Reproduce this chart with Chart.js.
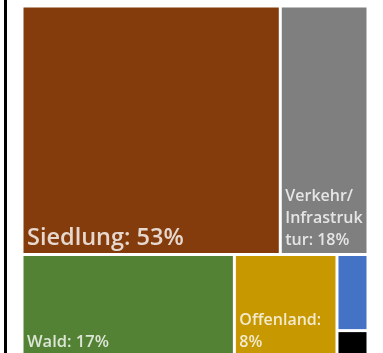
<!DOCTYPE html>
<html>
<head>
<meta charset="utf-8">
<script src="https://cdn.jsdelivr.net/npm/chart.js@4/dist/chart.umd.min.js"></script>
<style>
  html, body { margin: 0; padding: 0; background: #fff; overflow: hidden; }
  #wrap { position: relative; width: 383px; height: 358px; }
  #edge { position: absolute; left: 4px; top: 0; width: 3px; height: 353px; background: #000; }
</style>
</head>
<body>
<div id="wrap">
  <div id="edge"></div>
  <canvas id="treemap" width="383" height="358"></canvas>
</div>
<script>
// Flächenanteile (aus dem Bild geschätzt)
var categories = ['Siedlung', 'Verkehr/Infrastruktur', 'Wald', 'Offenland', 'Gewässer', 'Sonstiges'];
var areaValues = [53, 18, 17.8, 8.6, 1.95, 0.65];
var percentLabels = [53, 18, 17, 8, 2, 1];
var colors = ['#843c0c', '#7f7f7f', '#548235', '#c79800', '#4472c4', '#000000'];
var fontSizes = [23.5, 16, 16.5, 16, 12, 12];

// Anordnung : Zeilen untereinander, eine verschachtelte Liste ist eine Spalte
var layout = [[0, 1], [2, 3, [4, 5]]];

function sum(idx) {
  return idx.reduce(function(s, i) { return s + (Array.isArray(i) ? sum(i) : areaValues[i]); }, 0);
}

// Rechtecke in Datenkoordinaten (0..100 auf beiden Achsen)
function computeRects() {
  var total = sum(layout);
  var rects = [];
  var y = 0;
  layout.forEach(function(row) {
    var rowSum = sum(row);
    var h = rowSum / total * 100;
    var x = 0;
    row.forEach(function(item) {
      if (Array.isArray(item)) {
        var colSum = sum(item);
        var w = colSum / rowSum * 100;
        var yy = y;
        item.forEach(function(i) {
          var hh = areaValues[i] / colSum * h;
          rects.push({ i: i, x0: x, x1: x + w, y0: yy, y1: yy + hh });
          yy += hh;
        });
        x += w;
      } else {
        var w2 = areaValues[item] / rowSum * 100;
        rects.push({ i: item, x0: x, x1: x + w2, y0: y, y1: y + h });
        x += w2;
      }
    });
    y += h;
  });
  return rects;
}

function wrapText(ctx, text, maxW) {
  var tokens = [];
  var cur = '';
  for (var k = 0; k < text.length; k++) {
    cur += text[k];
    if (text[k] === ' ' || text[k] === '/') { tokens.push(cur); cur = ''; }
  }
  if (cur) tokens.push(cur);
  var lines = [];
  var line = '';
  tokens.forEach(function(tok) {
    var test = line + tok;
    if (ctx.measureText(test.trimEnd()).width <= maxW) { line = test; return; }
    if (line) lines.push(line.trimEnd());
    line = '';
    while (ctx.measureText(tok.trimEnd()).width > maxW) {
      var n = tok.length - 1;
      while (n > 1 && ctx.measureText(tok.slice(0, n)).width > maxW) n--;
      lines.push(tok.slice(0, n));
      tok = tok.slice(n);
    }
    line = tok;
  });
  if (line) lines.push(line.trimEnd());
  return lines;
}

var treemapPlugin = {
  id: 'treemapRects',
  afterDatasetsDraw: function(chart) {
    var ctx = chart.ctx;
    var xs = chart.scales.x;
    var ys = chart.scales.y;
    var gap = 1.5;
    computeRects().forEach(function(r) {
      var left = xs.getPixelForValue(r.x0) + gap;
      var right = xs.getPixelForValue(r.x1) - gap;
      var top = ys.getPixelForValue(r.y0) + gap;
      var bottom = ys.getPixelForValue(r.y1) - gap;
      ctx.save();
      ctx.fillStyle = colors[r.i];
      ctx.fillRect(left, top, right - left, bottom - top);
      if (right - left > 40) {
        var size = fontSizes[r.i];
        ctx.font = '600 ' + size + 'px "Open Sans", sans-serif';
        ctx.fillStyle = 'rgba(255,255,255,0.8)';
        ctx.textBaseline = 'alphabetic';
        var label = categories[r.i] + ': ' + percentLabels[r.i] + '%';
        var lines = wrapText(ctx, label, right - left - 6);
        var lh = 22;
        var base = bottom - 8 - (lines.length - 1) * lh;
        lines.forEach(function(l, n) {
          ctx.fillText(l, left + 3.5, base + n * lh);
        });
      }
      ctx.restore();
    });
  }
};

new Chart(document.getElementById('treemap'), {
  type: 'scatter',
  data: { datasets: [{ data: [], pointRadius: 0 }] },
  options: {
    responsive: false,
    animation: false,
    layout: { padding: { left: 22, right: 15, top: 6, bottom: 2 } },
    plugins: { legend: { display: false }, tooltip: { enabled: false } },
    scales: {
      x: { type: 'linear', min: 0, max: 100, display: false },
      y: { type: 'linear', min: 0, max: 100, reverse: true, display: false }
    }
  },
  plugins: [treemapPlugin]
});
</script>
</body>
</html>
